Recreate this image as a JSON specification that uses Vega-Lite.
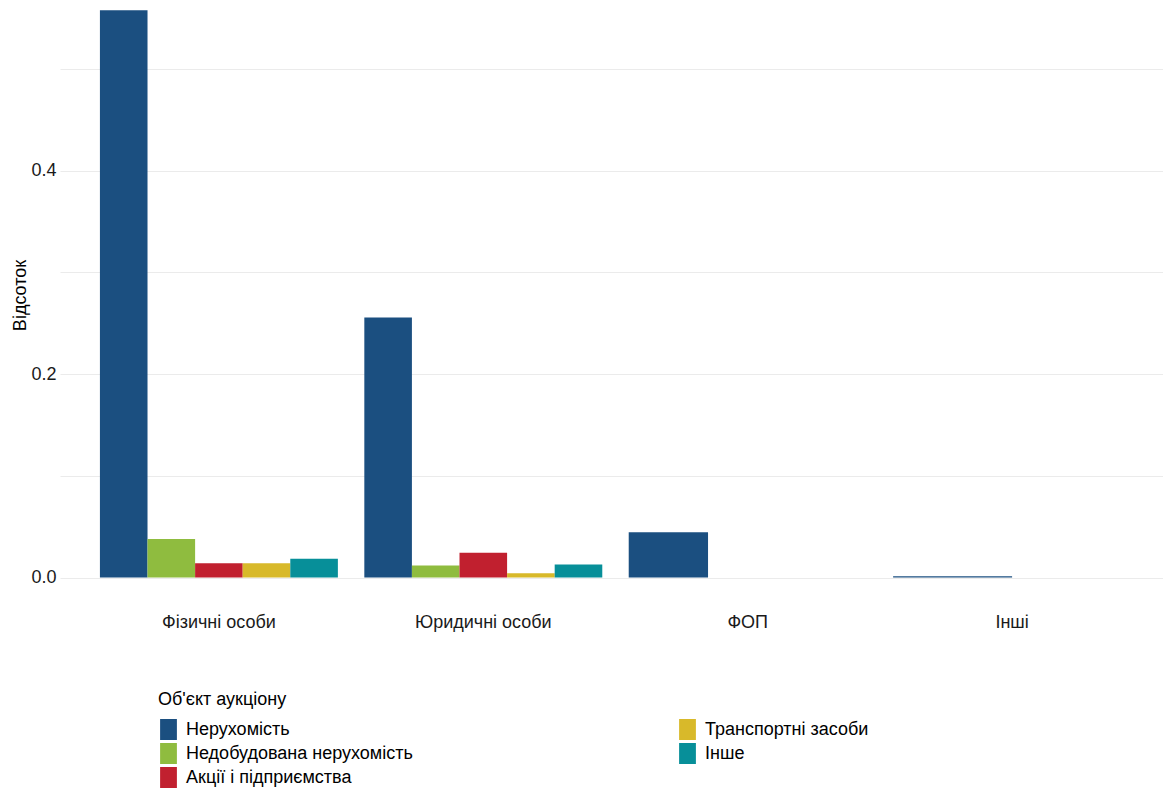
{
  "$schema": "https://vega.github.io/schema/vega-lite/v6.json",
  "width": 1103,
  "height": 606,
  "autosize": {"type": "none"},
  "padding": {"left": 60, "top": 0, "right": 0, "bottom": 188},
  "background": "white",
  "config": {
    "view": {"stroke": null},
    "axis": {"domain": false, "ticks": false, "gridColor": "#EBEBEB", "gridWidth": 1}
  },
  "datasets": {
    "d": [
      {"group": "Фізичні особи", "object": "Нерухомість", "share": 0.558},
      {"group": "Фізичні особи", "object": "Недобудована нерухомість", "share": 0.038},
      {"group": "Фізичні особи", "object": "Акції і підприємства", "share": 0.014},
      {"group": "Фізичні особи", "object": "Транспортні засоби", "share": 0.014},
      {"group": "Фізичні особи", "object": "Інше", "share": 0.0184},
      {"group": "Юридичні особи", "object": "Нерухомість", "share": 0.2557},
      {"group": "Юридичні особи", "object": "Недобудована нерухомість", "share": 0.0118},
      {"group": "Юридичні особи", "object": "Акції і підприємства", "share": 0.0243},
      {"group": "Юридичні особи", "object": "Транспортні засоби", "share": 0.0042},
      {"group": "Юридичні особи", "object": "Інше", "share": 0.0128},
      {"group": "ФОП", "object": "Нерухомість", "share": 0.0445},
      {"group": "ФОП", "object": "Недобудована нерухомість", "share": 0},
      {"group": "ФОП", "object": "Інше", "share": 0},
      {"group": "Інші", "object": "Нерухомість", "share": 0.0013},
      {"group": "Інші", "object": "Інше", "share": 0}
    ]
  },
  "data": {"name": "d"},
  "encoding": {
    "x": {
      "field": "group",
      "type": "nominal",
      "sort": ["Фізичні особи", "Юридичні особи", "ФОП", "Інші"],
      "scale": {"range": [0, 1111], "paddingInner": 0.1, "paddingOuter": 0.151},
      "axis": {
        "title": null,
        "grid": false,
        "labelAngle": 0,
        "labelFont": "Liberation Sans",
        "labelFontSize": 18,
        "labelColor": "#1a1a1a",
        "labelPadding": 7
      }
    },
    "y": {
      "field": "share",
      "type": "quantitative",
      "stack": null,
      "scale": {"domain": [-0.028, 0.568], "nice": false, "zero": false},
      "axis": {
        "title": "Відсоток",
        "values": [0, 0.1, 0.2, 0.3, 0.4, 0.5],
        "labelExpr": "round(datum.value * 10) % 2 == 0 ? format(datum.value, '.1f') : ''",
        "labelFont": "Liberation Sans",
        "labelFontSize": 18,
        "labelColor": "#1a1a1a",
        "labelPadding": 4,
        "titleFont": "Liberation Sans",
        "titleFontSize": 18,
        "titleFontWeight": "normal",
        "titleColor": "#000000",
        "titlePadding": 1,
        "titleY": 295
      }
    },
    "y2": {"datum": 0},
    "color": {
      "field": "object",
      "type": "nominal",
      "scale": {
        "domain": ["Нерухомість", "Недобудована нерухомість", "Акції і підприємства", "Транспортні засоби", "Інше"],
        "range": ["#1B4F80", "#8FBC3F", "#C1202F", "#D8B92A", "#078F99"]
      },
      "legend": {
        "title": "Об'єкт аукціону",
        "orient": "none",
        "legendX": 98,
        "legendY": 691,
        "columns": 2,
        "columnPadding": 264,
        "rowPadding": 3,
        "titleFont": "Liberation Sans",
        "titleFontSize": 18,
        "titleFontWeight": "normal",
        "titleColor": "#000000",
        "titlePadding": 10,
        "labelFont": "Liberation Sans",
        "labelFontSize": 18,
        "labelColor": "#000000",
        "labelLimit": 400,
        "labelOffset": 7,
        "symbolType": "M-0.8,-1H0.8V1H-0.8Z",
        "symbolSize": 441,
        "symbolStrokeWidth": 0,
        "symbolOpacity": 1
      }
    }
  },
  "layer": [
    {
      "transform": [{"filter": "datum.group === 'Фізичні особи' || datum.group === 'Юридичні особи'"}],
      "mark": {"type": "bar"},
      "encoding": {
        "xOffset": {
          "field": "object",
          "type": "nominal",
          "sort": ["Нерухомість", "Недобудована нерухомість", "Акції і підприємства", "Транспортні засоби", "Інше"],
          "scale": {"paddingInner": 0, "paddingOuter": 0}
        }
      }
    },
    {
      "transform": [{"filter": "datum.group === 'ФОП'"}],
      "mark": {"type": "bar"},
      "encoding": {
        "xOffset": {
          "field": "object",
          "type": "nominal",
          "sort": ["Нерухомість", "Недобудована нерухомість", "Інше"],
          "scale": {"paddingInner": 0, "paddingOuter": 0}
        }
      }
    },
    {
      "transform": [{"filter": "datum.group === 'Інші'"}],
      "mark": {"type": "bar"},
      "encoding": {
        "xOffset": {
          "field": "object",
          "type": "nominal",
          "sort": ["Нерухомість", "Інше"],
          "scale": {"paddingInner": 0, "paddingOuter": 0}
        }
      }
    }
  ],
  "resolve": {"scale": {"xOffset": "independent"}}
}
